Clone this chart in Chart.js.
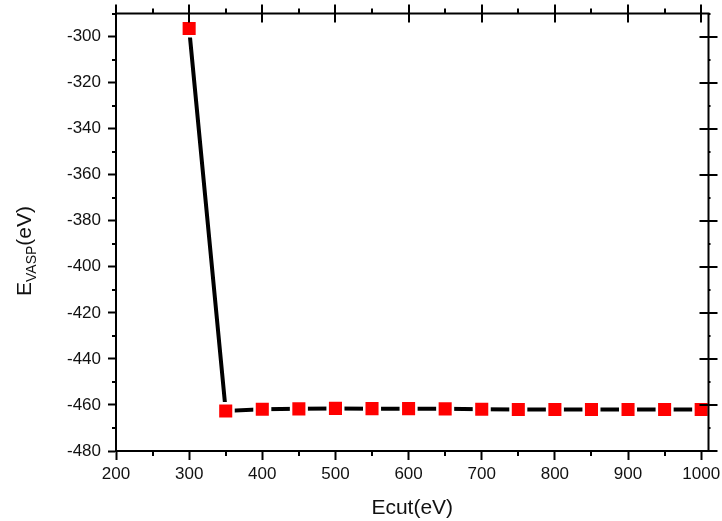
<!DOCTYPE html>
<html>
<head>
<meta charset="utf-8">
<script src="https://cdn.jsdelivr.net/npm/chart.js@4.4.1/dist/chart.umd.min.js"></script>
<style>
    html, body { margin:0; padding:0; background:#fff; }
    #wrap { width:722px; height:521px; }
</style>
</head>
<body>
<div id="wrap"><canvas id="chart" width="722" height="521"></canvas></div>
<script>

// DATA

const ecut = [300, 350, 400, 450, 500, 550, 600, 650, 700, 750, 800, 850, 900, 950, 1000];

const energy = [-296.5, -462.6, -461.9, -461.7, -461.5, -461.6, -461.6, -461.7,
                -461.9, -462.0, -462.0, -462.0, -462.0, -462.0, -462.0];

const xTicks = [200, 300, 400, 500, 600, 700, 800, 900, 1000];

const yTicks = [-480, -460, -440, -420, -400, -380, -360, -340, -320, -300];

const FONT = "'Liberation Sans', Arial, sans-serif";

// EXTRA AXIS DECORATION (minor ticks, top/right frame, titles)

const framePlugin = {
    id: "frame",
    afterDraw(chart){
        const ctx = chart.ctx;
        const a = chart.chartArea;
        const xs = chart.scales.x;
        const ys = chart.scales.y;

        ctx.save();
        ctx.strokeStyle = "#000";
        ctx.lineWidth = 2;
        ctx.lineCap = "butt";

        // top and right lines
        ctx.beginPath();
        ctx.moveTo(a.left - 1, a.top);
        ctx.lineTo(a.right + 1, a.top);
        ctx.moveTo(a.right, a.top);
        ctx.lineTo(a.right, a.bottom);
        ctx.stroke();

        ctx.beginPath();

        xTicks.forEach((v, i) => {
            let px = Math.round(xs.getPixelForValue(v));
            // top major, crossing
            ctx.moveTo(px, a.top - 9);
            ctx.lineTo(px, a.top + 9);

            if(i < xTicks.length - 1){
                let m = Math.round(xs.getPixelForValue((v + xTicks[i + 1]) / 2));
                ctx.moveTo(m, a.bottom);
                ctx.lineTo(m, a.bottom + 5);
                ctx.moveTo(m, a.top);
                ctx.lineTo(m, a.top - 5);
            }
        });

        yTicks.forEach((v, i) => {
            let py = Math.round(ys.getPixelForValue(v));
            // right major, crossing
            ctx.moveTo(a.right - 9, py);
            ctx.lineTo(a.right + 9, py);

            let next = i < yTicks.length - 1 ? yTicks[i + 1] : v + 20;
            let m = Math.round(ys.getPixelForValue((v + next) / 2));
            if(m > a.top){
                ctx.moveTo(a.left, m);
                ctx.lineTo(a.left - 4, m);
                ctx.moveTo(a.right, m);
                ctx.lineTo(a.right + 2, m);
            }
        });

        ctx.stroke();

        // x title
        ctx.fillStyle = "#111";
        ctx.font = "21px " + FONT;
        ctx.textAlign = "center";
        ctx.textBaseline = "alphabetic";
        ctx.fillText("Ecut(eV)", (a.left + a.right) / 2, 514);

        // y title with subscript
        ctx.translate(31, 251);
        ctx.rotate(-Math.PI / 2);
        ctx.textAlign = "left";

        ctx.font = "21px " + FONT;
        let wE = ctx.measureText("E").width;
        let wP = ctx.measureText("(eV)").width;
        ctx.font = "14px " + FONT;
        let wS = ctx.measureText("VASP").width;

        let x0 = -(wE + wS + wP) / 2;

        ctx.font = "21px " + FONT;
        ctx.fillText("E", x0, 0);
        ctx.font = "14px " + FONT;
        ctx.fillText("VASP", x0 + wE, 5);
        ctx.font = "21px " + FONT;
        ctx.fillText("(eV)", x0 + wE + wS, 0);

        ctx.restore();
    }
};

// CHART

new Chart(document.getElementById("chart"), {

    type: "line",

    data: {
        datasets: [{
            data: ecut.map((x, i) => ({ x: x, y: energy[i] })),
            borderColor: "#000",
            borderWidth: 4,
            tension: 0,
            pointStyle: "rect",
            pointRadius: 11,
            pointHoverRadius: 11,
            pointBackgroundColor: "#ff0000",
            pointBorderColor: "#fff",
            pointBorderWidth: 2.5
        }]
    },

    options: {
        responsive: false,
        animation: false,
        events: [],
        layout: {
            padding: { left: 0, right: 13, top: 13, bottom: 0 }
        },
        plugins: {
            legend: { display: false },
            tooltip: { enabled: false }
        },
        scales: {
            x: {
                type: "linear",
                min: 200,
                max: 1010,
                afterBuildTicks: s => { s.ticks = xTicks.map(v => ({ value: v })); },
                afterFit: s => {
                    s.height = 70;
                    s.paddingLeft = 0;
                    s.paddingRight = 0;
                },
                grid: {
                    drawOnChartArea: false,
                    tickLength: 9,
                    tickWidth: 2,
                    tickColor: "#000"
                },
                border: { color: "#000", width: 2 },
                ticks: {
                    color: "#111",
                    padding: 4,
                    maxRotation: 0,
                    callback: v => String(v),
                    font: { family: FONT, size: 17 }
                }
            },
            y: {
                type: "linear",
                min: -480,
                max: -290,
                afterBuildTicks: s => { s.ticks = yTicks.map(v => ({ value: v })); },
                afterFit: s => {
                    s.width = 116;
                    s.paddingTop = 0;
                    s.paddingBottom = 0;
                },
                grid: {
                    drawOnChartArea: false,
                    tickLength: 8,
                    tickWidth: 2,
                    tickColor: "#000"
                },
                border: { color: "#000", width: 2 },
                ticks: {
                    color: "#111",
                    padding: 7,
                    callback: v => String(v),
                    font: { family: FONT, size: 17 }
                }
            }
        }
    },

    plugins: [framePlugin]
});

</script>
</body>
</html>
